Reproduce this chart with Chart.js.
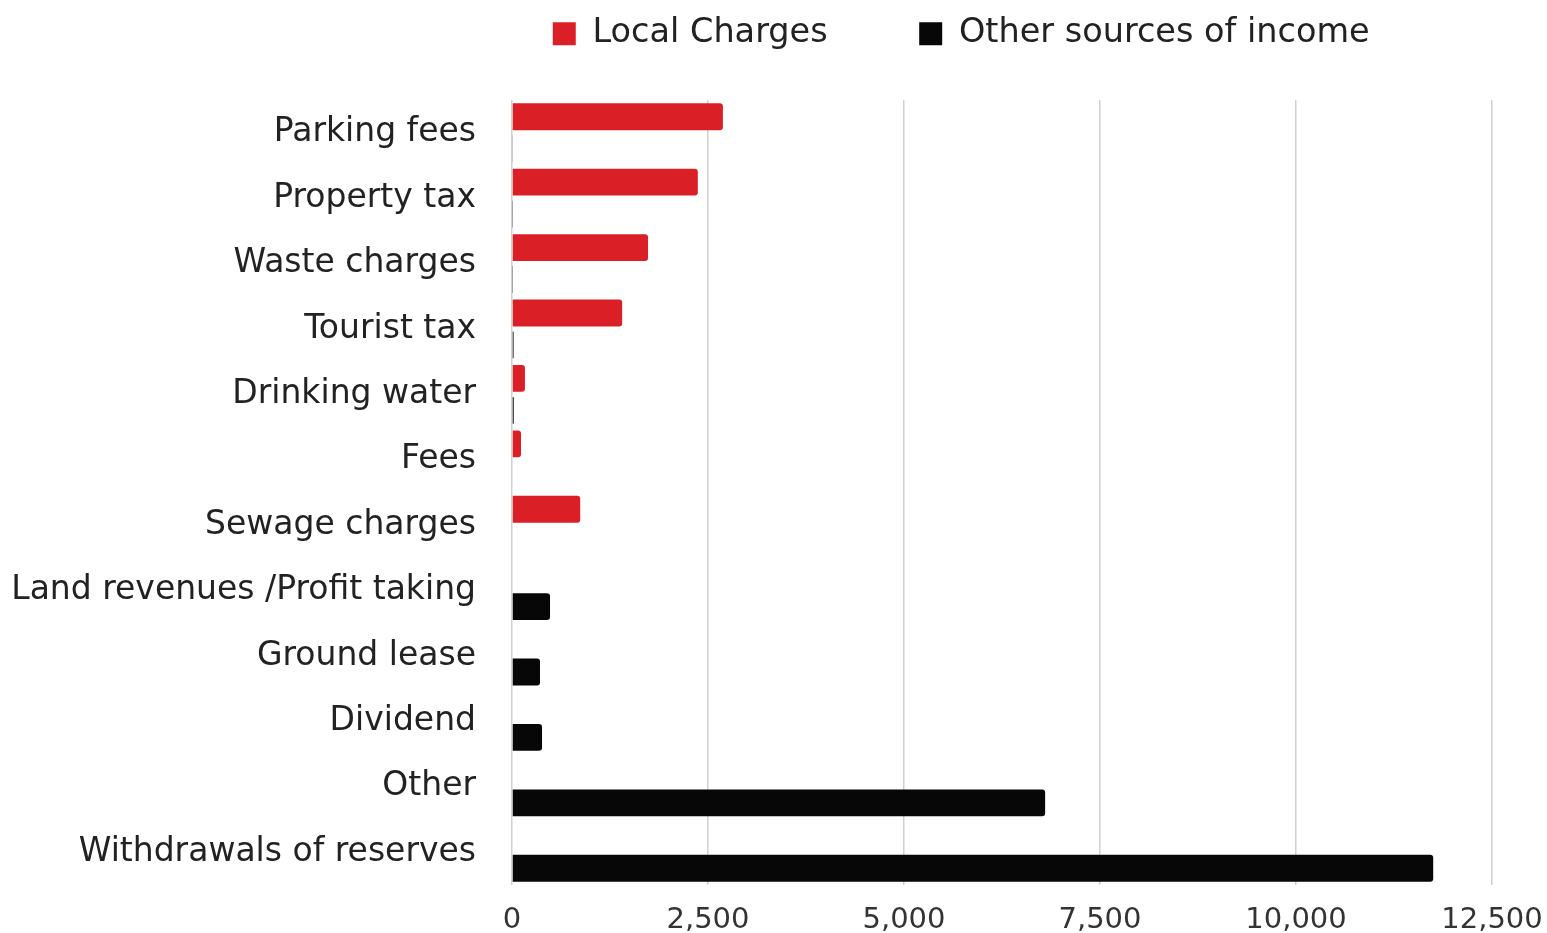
<!DOCTYPE html>
<html>
<head>
<meta charset="utf-8">
<script src="https://cdn.jsdelivr.net/npm/chart.js@4/dist/chart.umd.min.js"></script>
<style>
  html, body { margin: 0; padding: 0; background: #fff; }
  #wrap { width: 1547px; height: 933px; }
</style>
</head>
<body>
<div id="wrap"><canvas id="myChart"></canvas></div>
<script>
// income categories, top to bottom
var categories = [
  'Parking fees', 'Property tax', 'Waste charges', 'Tourist tax',
  'Drinking water', 'Fees', 'Sewage charges', 'Land revenues /Profit taking',
  'Ground lease', 'Dividend', 'Other', 'Withdrawals of reserves'
];
var localCharges = [2690, 2370, 1735, 1405, 165, 115, 870, null, null, null, null, null];
var otherIncome = [8, 6, 6, 20, 22, null, null, 485, 357, 383, 6800, 11750];
var xTicks = [0, 2500, 5000, 7500, 10000, 12500];

var FONT = 'DejaVu Sans';
var RED = '#da1f27';
var BLACK = '#070707';

// legend gets a fixed height and is nudged right over the plot
var legendSpace = {
  id: 'legendSpace',
  beforeInit: function(chart) {
    var fit = chart.legend.fit;
    chart.legend.fit = function() {
      fit.bind(chart.legend)();
      this.height = 100;
    };
  },
  afterLayout: function(chart) {
    chart.legend.left = 450;
  }
};

var data = {
  labels: categories,
  datasets: [
    {
      label: 'Local Charges',
      data: localCharges,
      backgroundColor: RED,
      borderRadius: 3,
      categoryPercentage: 0.975,
      barPercentage: 0.84
    },
    {
      label: 'Other sources of income',
      data: otherIncome,
      backgroundColor: BLACK,
      borderRadius: 3,
      categoryPercentage: 0.975,
      barPercentage: 0.84
    }
  ]
};

var config = {
  type: 'bar',
  data: data,
  plugins: [legendSpace],
  options: {
    indexAxis: 'y',
    responsive: true,
    maintainAspectRatio: false,
    animation: false,
    layout: { padding: 0 },
    plugins: {
      legend: {
        position: 'top',
        labels: {
          font: { family: FONT, size: 33.5 },
          color: '#222',
          boxWidth: 23,
          boxHeight: 23,
          padding: 17,
          generateLabels: function(chart) {
            return chart.data.datasets.map(function(ds, i) {
              return {
                text: ds.label + '       ',
                fillStyle: ds.backgroundColor,
                strokeStyle: ds.backgroundColor,
                lineWidth: 0,
                datasetIndex: i,
                fontColor: '#222'
              };
            });
          }
        }
      },
      tooltip: { enabled: false }
    },
    scales: {
      x: {
        min: 0,
        max: 12500,
        afterBuildTicks: function(scale) {
          scale.ticks = xTicks.map(function(v) { return { value: v }; });
        },
        afterFit: function(scale) {
          scale.height = 48;
          scale.paddingRight = 55;
        },
        grid: { color: '#cfcfcf', lineWidth: 1.5, drawTicks: false },
        border: { display: false },
        ticks: {
          font: { family: FONT, size: 29 },
          color: '#333',
          padding: 18,
          maxRotation: 0,
          callback: function(v) { return v.toLocaleString('en-US'); }
        }
      },
      y: {
        afterFit: function(scale) { scale.width = 512; },
        grid: { display: false },
        border: { display: false },
        ticks: {
          font: { family: FONT, size: 33 },
          color: '#222',
          padding: 28
        }
      }
    }
  }
};

var myChart = new Chart(document.getElementById('myChart'), config);
</script>
</body>
</html>
